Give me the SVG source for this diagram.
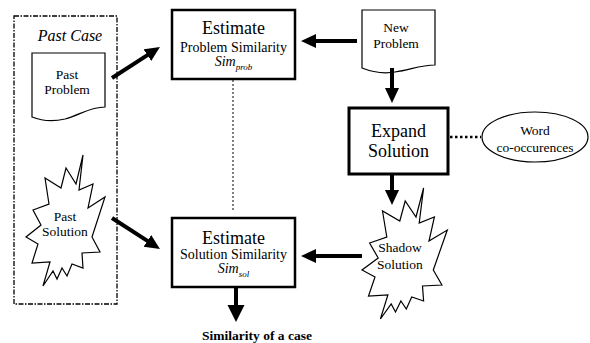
<svg xmlns="http://www.w3.org/2000/svg" width="590" height="343" viewBox="0 0 590 343" font-family="'Liberation Serif', 'DejaVu Serif', 'Times New Roman', serif">
<style>
text{font-family:'Liberation Serif','DejaVu Serif','Times New Roman',serif;fill:#000;text-anchor:middle}
.shape{fill:#fff;stroke:#000;stroke-width:1.2}
.box{fill:#fff;stroke:#000;stroke-width:2.5}
.thick{fill:#fff;stroke:#000;stroke-width:3}
.arrow{stroke:#000;stroke-width:4;fill:none}
.t13{font-size:13.5px}
.t14{font-size:14px}
.t18{font-size:18px}
</style>
<defs>
<marker id="ah" markerUnits="userSpaceOnUse" markerWidth="16" markerHeight="16" refX="1" refY="7" orient="auto">
<path d="M0,0 L15,7 L0,14 Z" fill="#000"/>
</marker>
<marker id="ahb" markerUnits="userSpaceOnUse" markerWidth="18" markerHeight="18" refX="1" refY="8.5" orient="auto">
<path d="M0,0 L17,8.5 L0,17 Z" fill="#000"/>
</marker>
</defs>

<g id="past-case">
<rect x="14" y="16" width="103" height="288" fill="none" stroke="#000" stroke-width="1.3" stroke-dasharray="5,1.5,1.5,1.5"/>
<text x="70" y="41" font-size="16" font-style="italic">Past Case</text>
</g>

<g id="past-problem">
<path class="shape" d="M32,53 H105 V107 C90,107 80,115 65,119 C52,122 42,121 32,117 Z"/>
<text class="t13" x="67" y="79">Past</text>
<text class="t13" x="67" y="94">Problem</text>
</g>

<g id="past-solution">
<polygon class="shape" points="83,155 76,184 66,168 61,188 45,178 49,204 33,210 41,225 26,237 38,244 32,263 50,262 43,286 53,271 57,279 62,268 67,276 72,264 83,268 82,253 100,252 92,237 105,197 88,208 93,184 79,190"/>
<text class="t13" x="65" y="221">Past</text>
<text class="t13" x="65" y="236">Solution</text>
</g>

<g id="estimate-problem">
<rect class="box" x="172" y="10" width="123" height="69"/>
<text class="t18" x="233.5" y="34">Estimate</text>
<text class="t14" x="233.5" y="52">Problem Similarity</text>
<text class="t14" x="233.5" y="66" font-style="italic">Sim<tspan font-size="9" dy="4">prob</tspan></text>
</g>

<g id="estimate-solution">
<rect class="box" x="172" y="218" width="123" height="69"/>
<text class="t18" x="233.5" y="244">Estimate</text>
<text class="t14" x="233.5" y="259">Solution Similarity</text>
<text class="t14" x="233.5" y="273" font-style="italic">Sim<tspan font-size="9" dy="4">sol</tspan></text>
</g>

<g id="new-problem">
<path class="shape" d="M362,10 H435 V65 C420,65 410,70 395,72 C383,74 372,72 362,68 Z"/>
<text class="t13" x="396" y="32">New</text>
<text class="t13" x="396" y="48">Problem</text>
</g>

<g id="expand-solution">
<rect class="thick" x="349" y="108" width="99" height="66"/>
<text class="t18" x="398.5" y="137">Expand</text>
<text class="t18" x="398.5" y="157">Solution</text>
</g>

<g id="word-cooccurences">
<ellipse class="shape" cx="535" cy="137" rx="53" ry="25"/>
<text class="t13" x="535" y="135">Word</text>
<text class="t13" x="535" y="152">co-occurences</text>
</g>

<g id="shadow-solution">
<polygon class="shape" points="423.6,188 416,217 405.2,201 399.8,221 382.5,211 386.8,237 369.6,243 378.2,258 362,270 375,277 368.5,296 387.9,295 380.4,319 391.2,304 395.5,312 400.9,301 406.3,309 411.7,297 423.6,301 422.5,286 441.9,285 433.3,270 447.3,230 429,241 434.4,217 419.2,223"/>
<text class="t13" x="400" y="252">Shadow</text>
<text class="t13" x="400" y="269">Solution</text>
</g>

<g id="similarity-label">
<text x="257" y="340" font-size="13.5" font-weight="bold">Similarity of a case</text>
</g>

<g id="connectors">
<line class="arrow" stroke-width="3.5" x1="112" y1="78" x2="148.2" y2="54.6" marker-end="url(#ah)"/>
<line class="arrow" stroke-width="3.5" x1="112" y1="218" x2="148.2" y2="241.4" marker-end="url(#ah)"/>
<line class="arrow" x1="357" y1="41" x2="315" y2="41" marker-end="url(#ah)"/>
<line class="arrow" x1="362" y1="256" x2="315" y2="256" marker-end="url(#ah)"/>
<line class="arrow" x1="392" y1="68" x2="392" y2="89" marker-end="url(#ah)"/>
<line class="arrow" x1="392" y1="174" x2="392" y2="191" marker-end="url(#ah)"/>
<line class="arrow" x1="236" y1="288" x2="236" y2="306" marker-end="url(#ahb)"/>
<line x1="233" y1="80" x2="233" y2="212" stroke="#000" stroke-width="1" stroke-dasharray="2,2"/>
<line x1="450" y1="137" x2="481" y2="137" stroke="#000" stroke-width="2.5" stroke-dasharray="2.5,2.5"/>
</g>
</svg>
